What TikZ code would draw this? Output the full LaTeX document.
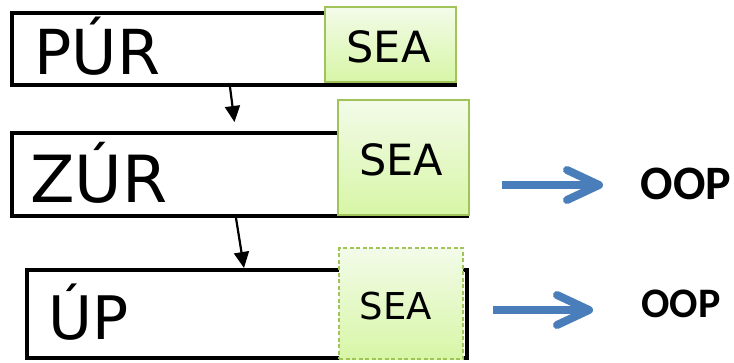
\documentclass[tikz,border=0pt]{standalone}
\usepackage{fontspec}
\setmainfont{DejaVu Sans}
\newfontfamily\oopfont{Carlito}
\usetikzlibrary{arrows.meta,calc}
\definecolor{seaborder}{RGB}{160,196,90}
\definecolor{seatop}{RGB}{243,251,233}
\definecolor{seabot}{RGB}{215,246,166}
\definecolor{oopblue}{RGB}{74,126,187}
\tikzset{
  mainbox/.style={draw=black, line width=4pt, fill=white, rectangle, inner sep=0pt},
  seabox/.style={draw=seaborder, line width=1.8pt, top color=seatop, bottom color=seabot, rectangle, inner sep=0pt},
  seadash/.style={seabox, dash pattern=on 4pt off 2.5pt, line width=1.3pt},
  bigtxt/.style={anchor=base, inner sep=0pt},
  flow/.style={line width=2.2pt, -{Triangle[length=16pt,width=15pt]}},
  bluearr/.style={draw=oopblue, line width=8pt},
  bluehead/.style={draw=oopblue, line width=8pt, line cap=round, line join=round},
  ooptxt/.style={anchor=base, inner sep=0pt, font=\oopfont\bfseries}
}
\begin{document}
\begin{tikzpicture}[x=1pt,y=-1pt]
\useasboundingbox (0,0) rectangle (734,362);
% main boxes
\node[mainbox, minimum width=443pt, minimum height=72pt] (b1) at (233.5,49) {};
\node[mainbox, minimum width=455pt, minimum height=83pt] (b2) at (239.5,174.5) {};
\node[mainbox, minimum width=440pt, minimum height=88pt] (b3) at (247,314) {};
% SEA boxes
\node[seabox, minimum width=131pt, minimum height=75pt] (s1) at (390.5,44.5) {};
\node[seabox, minimum width=131pt, minimum height=115pt] (s2) at (403.5,157.5) {};
\node[seadash, minimum width=124pt, minimum height=111pt] (s3) at (401,303.5) {};
% texts
\node[bigtxt, font=\fontsize{62}{62}\selectfont] (t1) at (97.5,74) {PÚR};
\node[bigtxt, font=\fontsize{65}{65}\selectfont] (t2) at (99,202) {ZÚR};
\node[bigtxt, font=\fontsize{60}{60}\selectfont] (t3) at (89,339) {ÚP};
\node[bigtxt, font=\fontsize{43}{43}\selectfont] (e1) at (388.5,62.5) {SEA};
\node[bigtxt, font=\fontsize{43}{43}\selectfont] (e2) at (401,175) {SEA};
\node[bigtxt, font=\fontsize{37}{37}\selectfont] (e3) at (396,319) {SEA};
\node[ooptxt, font=\oopfont\bfseries\fontsize{48}{48}\selectfont] (o1) at (686,199) {OOP};
\node[ooptxt, font=\oopfont\bfseries\fontsize{42}{42}\selectfont] (o2) at (681,317) {OOP};
% black flow arrows
\coordinate (a1end) at (234.5,122);
\draw[flow] ([xshift=220pt]b1.south west) -- (a1end);
\draw[flow] ([xshift=226pt]b2.south west) -- ([xshift=219pt]b3.north west);
% blue arrows
\coordinate (p1s) at (502,185);
\coordinate (p1e) at (599,185);
\coordinate (p2s) at (493,310);
\coordinate (p2e) at (589,310);
\draw[bluearr] (p1s) -- ($(p1e)+(-4,0)$);
\draw[bluehead] ($(p1e)+(-32,-15)$) -- (p1e) -- ($(p1e)+(-32,15)$);
\draw[bluearr] (p2s) -- ($(p2e)+(-4,0)$);
\draw[bluehead] ($(p2e)+(-32,-15)$) -- (p2e) -- ($(p2e)+(-32,15)$);
\end{tikzpicture}
\end{document}
